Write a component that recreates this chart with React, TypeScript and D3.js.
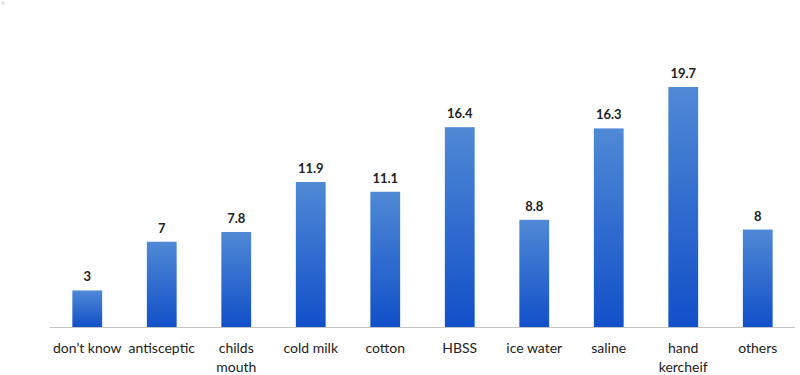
import React, { useEffect, useRef } from 'react'
import * as d3 from 'd3'

// values
const categories = ['don’t know', 'antisceptic', 'childs mouth', 'cold milk', 'cotton', 'HBSS', 'ice water', 'saline', 'hand kercheif', 'others']
const tickLabels = [['don’t know'], ['antisceptic'], ['childs', 'mouth'], ['cold milk'], ['cotton'], ['HBSS'], ['ice water'], ['saline'], ['hand', 'kercheif'], ['others']]
const values = [3, 7, 7.8, 11.9, 11.1, 16.4, 8.8, 16.3, 19.7, 8]

const width = 800
const height = 375
const margin = { top: 20, right: 5, bottom: 48, left: 50 }

const App = () => {
  const ref = useRef<SVGSVGElement>(null)

  useEffect(() => {
    const svg = d3.select(ref.current)
    svg.selectAll('*').remove()

    const x = d3.scaleBand()
      .domain(categories)
      .range([margin.left, width - margin.right])
      .paddingInner(0.6)
      .paddingOuter(0.3)

    const baseY = height - margin.bottom
    const y = d3.scaleLinear()
      .domain([0, 19.7])
      .range([baseY, baseY - 240])

    const grad = svg.append('defs').append('linearGradient')
      .attr('id', 'barGrad')
      .attr('x1', 0).attr('y1', 0).attr('x2', 0).attr('y2', 1)
    grad.append('stop').attr('offset', '0%').attr('stop-color', '#5089d5')
    grad.append('stop').attr('offset', '100%').attr('stop-color', '#1150c9')

    svg.append('line')
      .attr('x1', margin.left).attr('x2', width - margin.right)
      .attr('y1', baseY + 0.5).attr('y2', baseY + 0.5)
      .attr('stroke', '#c4c4c4')
      .attr('stroke-width', 1.2)

    svg.selectAll('.bar')
      .data(values).enter()
      .append('rect')
        .attr('class', 'bar')
        .attr('x', (d, i) => x(categories[i])!)
        .attr('y', d => y(d))
        .attr('width', x.bandwidth())
        .attr('height', d => baseY - y(d))
        .attr('fill', 'url(#barGrad)')

    svg.selectAll('.val')
      .data(values).enter()
      .append('text')
        .attr('class', 'val')
        .attr('x', (d, i) => x(categories[i])! + x.bandwidth() / 2)
        .attr('y', d => y(d) - 9)
        .attr('text-anchor', 'middle')
        .attr('font-family', 'Lato, sans-serif')
        .attr('font-size', 13)
        .attr('font-weight', 700)
        .attr('fill', '#222')
        .text(d => String(d))

    const ticks = svg.selectAll('.tick')
      .data(tickLabels).enter()
      .append('text')
        .attr('class', 'tick')
        .attr('x', (d, i) => x(categories[i])! + x.bandwidth() / 2)
        .attr('y', baseY + 26)
        .attr('text-anchor', 'middle')
        .attr('font-family', 'Lato, sans-serif')
        .attr('font-size', 14)
        .attr('fill', '#222')

    ticks.each(function (lines) {
      const t = d3.select(this)
      lines.forEach((l, j) => {
        t.append('tspan')
          .attr('x', t.attr('x'))
          .attr('dy', j === 0 ? 0 : 19)
          .text(l)
      })
    })

    svg.append('circle')
      .attr('cx', 3).attr('cy', 3).attr('r', 2)
      .attr('fill', '#e6e6e6')
  }, [])

  return (
    <svg ref={ref} width={width} height={height}
      style={{ position: 'absolute', left: 0, top: 0, background: '#fff' }} />
  )
}

export default App
